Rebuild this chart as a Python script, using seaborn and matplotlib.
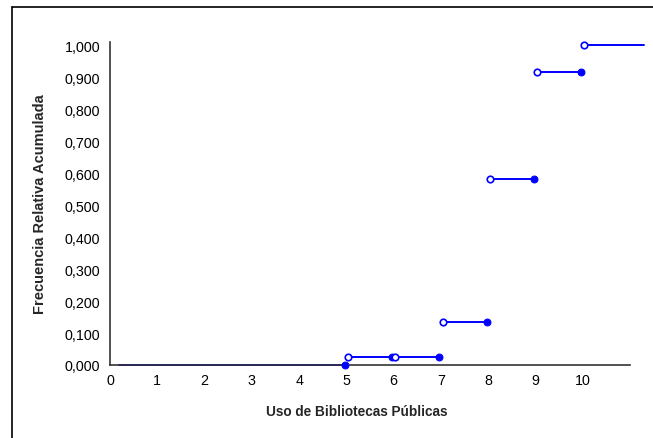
import matplotlib
matplotlib.use("Agg")
import matplotlib.pyplot as plt
from matplotlib.lines import Line2D
import pandas as pd
import seaborn as sns

# step function: each segment [start, end) at a cumulative relative frequency
seg_start = [0.2, 5, 6, 7, 8, 9, 10]
seg_end = [5, 6, 7, 8, 9, 10, 11.3]
seg_y = [0.0, 0.025, 0.025, 0.133, 0.583, 0.917, 1.000]

x_ticks = list(range(0, 12))
x_tick_labels = [str(v) for v in range(0, 11)] + [""]
y_ticks = [0.0, 0.1, 0.2, 0.3, 0.4, 0.5, 0.6, 0.7, 0.8, 0.9, 1.0]
y_tick_labels = ["0,000", "0,100", "0,200", "0,300", "0,400", "0,500",
                 "0,600", "0,700", "0,800", "0,900", "1,000"]

BLUE = "#0000ff"
GAP = 0.035

rows = []
for i, (a, b, y) in enumerate(zip(seg_start, seg_end, seg_y)):
    rows.append({"seg": i, "x": a + (GAP if i > 0 else 0), "y": y})
    rows.append({"seg": i, "x": b - (GAP if i < len(seg_end) - 1 else 0), "y": y})
lines = pd.DataFrame(rows)

open_pts = pd.DataFrame({"x": [a + GAP for a in seg_start[1:]], "y": seg_y[1:]})
closed_pts = pd.DataFrame({"x": [b - GAP for b in seg_end[:-1]], "y": seg_y[:-1]})

sns.set_style("white")
plt.rcParams["font.family"] = ["Liberation Sans", "DejaVu Sans"]

fig = plt.figure(figsize=(6.53, 4.39), dpi=100)
ax = fig.add_axes([0.1685, 0.1663, 0.7963, 0.7358])

sns.lineplot(data=lines, x="x", y="y", units="seg", estimator=None,
             color=BLUE, linewidth=1.4, ax=ax, legend=False)
for ln in ax.lines:
    ln.set_clip_on(False)
sns.scatterplot(data=closed_pts, x="x", y="y", color=BLUE, edgecolor=BLUE,
                s=24, linewidth=0.8, ax=ax, zorder=4, clip_on=False)
sns.scatterplot(data=open_pts, x="x", y="y", color="white", edgecolor=BLUE,
                s=22, linewidth=1.2, ax=ax, zorder=4, clip_on=False)

ax.set_xlim(0, 11)
ax.set_ylim(0, 1.01)
ax.set_xticks(x_ticks)
ax.set_xticklabels(x_tick_labels)
ax.set_yticks(y_ticks)
ax.set_yticklabels(y_tick_labels)
ax.tick_params(axis="x", direction="inout", length=5, width=1, colors="#333333",
               labelcolor="black", labelsize=10.3, pad=3)
ax.tick_params(axis="y", direction="out", length=4, width=1, colors="#333333",
               labelcolor="black", labelsize=10.3, pad=3)
for side in ("top", "right"):
    ax.spines[side].set_visible(False)
for side in ("left", "bottom"):
    ax.spines[side].set_color("#333333")
    ax.spines[side].set_linewidth(1.2)

ax.set_xlabel("Uso de Bibliotecas Públicas", fontsize=9.8, fontweight="bold")
ax.set_ylabel("Frecuencia Relativa Acumulada", fontsize=10.5, fontweight="bold")
ax.xaxis.set_label_coords((357 - 110) / 520, -(412 - 366) / 323, transform=ax.transAxes)
ax.yaxis.set_label_coords(-(110 - 40) / 520, 0.5, transform=ax.transAxes)
ax.xaxis.label.set_va("center")
ax.yaxis.label.set_va("center")

# outer frame (left and top edges visible in the original)
fig.add_artist(Line2D([12 / 653, 12 / 653], [0, 1 - 8 / 439], color="black", linewidth=1.2))
fig.add_artist(Line2D([12 / 653, 1], [1 - 8 / 439, 1 - 8 / 439], color="black", linewidth=1.2))

fig.savefig("out.png", dpi=100)
